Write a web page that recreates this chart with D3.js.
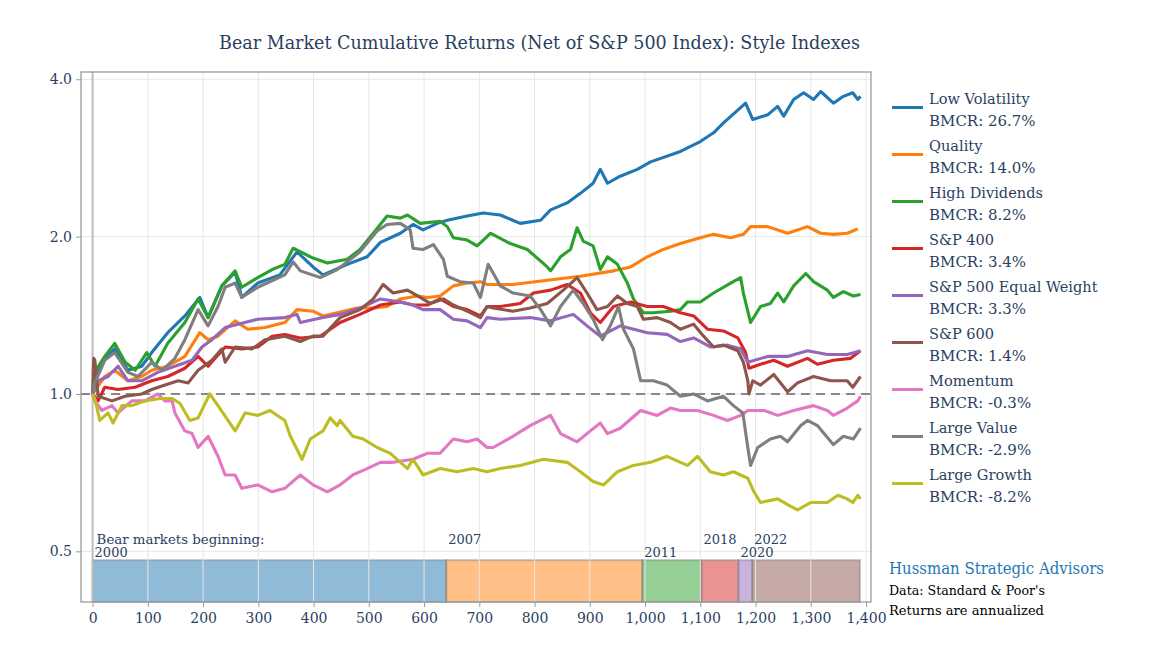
<!DOCTYPE html>
<html><head><meta charset="utf-8">
<script src="https://cdn.jsdelivr.net/npm/d3@7"></script>
<style>
body{margin:0;background:#fff}
svg{display:block}
text{font-family:"DejaVu Serif",serif;}
</style>
</head><body>
<svg id="chart" width="1149" height="656"></svg>
<script>
// ---------------- DATA ----------------
const lowVolatility = [[0,1.00],[4,1.05],[17,1.15],[40,1.22],[64,1.11],[89,1.13],[107,1.20],[136,1.31],[167,1.41],[194,1.53],[209,1.40],[234,1.61],[258,1.71],[270,1.53],[299,1.63],[339,1.69],[370,1.87],[399,1.75],[417,1.69],[461,1.77],[497,1.83],[521,1.95],[557,2.03],[580,2.11],[598,2.06],[624,2.12],[642,2.15],[678,2.19],[707,2.22],[738,2.20],[774,2.12],[811,2.15],[829,2.25],[859,2.32],[883,2.42],[906,2.53],[919,2.69],[932,2.53],[955,2.61],[986,2.69],[1010,2.78],[1064,2.91],[1100,3.04],[1124,3.16],[1142,3.30],[1182,3.60],[1195,3.35],[1222,3.42],[1240,3.55],[1251,3.40],[1269,3.66],[1287,3.77],[1305,3.66],[1318,3.79],[1341,3.60],[1359,3.71],[1376,3.77],[1385,3.66],[1390,3.71]];
const quality = [[0,1.00],[22,1.08],[40,1.11],[64,1.06],[89,1.08],[107,1.11],[136,1.13],[167,1.18],[194,1.31],[209,1.27],[227,1.29],[258,1.38],[281,1.33],[312,1.34],[348,1.37],[370,1.45],[399,1.44],[417,1.41],[443,1.43],[479,1.46],[508,1.46],[533,1.47],[557,1.52],[588,1.54],[606,1.53],[629,1.54],[653,1.61],[678,1.63],[702,1.64],[714,1.62],[761,1.62],[823,1.65],[883,1.68],[943,1.72],[974,1.75],[1004,1.83],[1033,1.89],[1064,1.94],[1100,1.99],[1124,2.02],[1155,1.99],[1178,2.02],[1191,2.09],[1222,2.09],[1258,2.03],[1294,2.09],[1318,2.03],[1341,2.02],[1366,2.03],[1385,2.07]];
const highDividends = [[0,1.00],[4,1.10],[22,1.18],[40,1.25],[59,1.15],[77,1.11],[98,1.20],[113,1.13],[136,1.25],[167,1.37],[191,1.52],[209,1.40],[234,1.61],[258,1.72],[270,1.60],[299,1.67],[325,1.73],[348,1.77],[363,1.90],[399,1.82],[425,1.78],[461,1.81],[484,1.89],[508,2.03],[533,2.19],[557,2.17],[570,2.20],[593,2.12],[629,2.14],[642,2.09],[653,1.99],[678,1.97],[696,1.92],[714,2.00],[720,2.03],[756,1.94],[787,1.89],[823,1.75],[829,1.72],[847,1.83],[865,1.89],[877,2.08],[888,1.96],[906,1.92],[919,1.73],[932,1.83],[950,1.77],[968,1.63],[979,1.52],[997,1.43],[1015,1.43],[1046,1.44],[1064,1.45],[1077,1.50],[1100,1.50],[1124,1.56],[1155,1.63],[1173,1.67],[1178,1.56],[1191,1.37],[1209,1.47],[1227,1.49],[1240,1.56],[1251,1.50],[1269,1.61],[1291,1.70],[1305,1.64],[1330,1.58],[1341,1.53],[1359,1.57],[1377,1.54],[1390,1.55]];
const sp400 = [[0,1.00],[10,0.97],[22,1.03],[46,1.02],[77,1.03],[107,1.06],[136,1.08],[167,1.12],[191,1.18],[209,1.13],[240,1.23],[270,1.22],[299,1.23],[325,1.29],[348,1.30],[376,1.28],[412,1.29],[448,1.37],[484,1.42],[521,1.48],[557,1.50],[580,1.48],[606,1.48],[629,1.52],[653,1.47],[678,1.45],[702,1.41],[714,1.47],[738,1.47],[774,1.49],[798,1.56],[829,1.58],[859,1.62],[883,1.56],[901,1.43],[919,1.37],[943,1.47],[974,1.50],[1004,1.47],[1033,1.47],[1064,1.43],[1088,1.41],[1113,1.33],[1142,1.32],[1168,1.28],[1182,1.20],[1188,1.12],[1209,1.14],[1233,1.16],[1258,1.13],[1294,1.17],[1312,1.14],[1341,1.16],[1372,1.17],[1390,1.21]];
const sp500EqualWeight = [[0,1.00],[10,1.06],[28,1.08],[46,1.13],[64,1.06],[89,1.06],[118,1.10],[149,1.13],[180,1.16],[198,1.23],[216,1.27],[240,1.34],[263,1.36],[299,1.39],[348,1.40],[370,1.42],[376,1.37],[417,1.40],[448,1.42],[484,1.46],[521,1.52],[557,1.50],[580,1.48],[598,1.45],[629,1.45],[653,1.39],[678,1.38],[702,1.34],[714,1.40],[738,1.39],[792,1.40],[829,1.38],[870,1.42],[895,1.35],[919,1.29],[955,1.35],[1004,1.31],[1040,1.30],[1064,1.26],[1088,1.28],[1118,1.23],[1149,1.24],[1173,1.22],[1186,1.15],[1222,1.18],[1258,1.18],[1294,1.21],[1330,1.19],[1366,1.19],[1390,1.21]];
const sp600 = [[0,1.00],[2,1.17],[4,1.16],[10,0.99],[35,0.97],[59,0.99],[89,1.00],[107,1.02],[131,1.04],[155,1.06],[173,1.05],[191,1.11],[216,1.16],[234,1.22],[240,1.15],[258,1.23],[289,1.22],[312,1.27],[348,1.29],[376,1.26],[399,1.29],[417,1.29],[448,1.40],[484,1.45],[508,1.52],[526,1.62],[544,1.56],[570,1.58],[593,1.53],[611,1.49],[635,1.52],[653,1.48],[678,1.44],[702,1.40],[714,1.47],[725,1.46],[761,1.44],[792,1.46],[823,1.49],[852,1.58],[877,1.67],[895,1.56],[913,1.45],[932,1.47],[950,1.54],[968,1.49],[986,1.47],[997,1.39],[1022,1.40],[1046,1.37],[1064,1.33],[1088,1.36],[1106,1.29],[1124,1.23],[1142,1.24],[1168,1.21],[1178,1.15],[1186,1.06],[1188,1.00],[1195,1.06],[1209,1.04],[1233,1.09],[1258,1.01],[1276,1.05],[1305,1.08],[1336,1.06],[1366,1.06],[1376,1.03],[1390,1.08]];
const momentum = [[0,1.00],[4,0.97],[17,0.93],[35,0.95],[46,0.92],[71,0.97],[95,0.97],[118,1.00],[131,0.97],[144,0.97],[149,0.92],[167,0.85],[180,0.84],[191,0.79],[209,0.83],[227,0.76],[240,0.70],[258,0.70],[270,0.66],[299,0.67],[325,0.65],[348,0.66],[376,0.70],[399,0.67],[425,0.65],[448,0.67],[471,0.70],[497,0.72],[521,0.74],[544,0.74],[580,0.75],[606,0.77],[629,0.77],[653,0.82],[678,0.81],[696,0.82],[714,0.79],[725,0.79],[761,0.83],[792,0.87],[829,0.91],[847,0.84],[877,0.81],[901,0.85],[919,0.88],[932,0.84],[955,0.86],[992,0.93],[1022,0.91],[1046,0.94],[1064,0.93],[1095,0.93],[1124,0.91],[1149,0.89],[1173,0.91],[1186,0.93],[1216,0.93],[1240,0.91],[1269,0.93],[1305,0.95],[1330,0.93],[1341,0.91],[1366,0.94],[1385,0.97],[1390,0.99]];
const largeValue = [[0,1.00],[4,1.05],[22,1.16],[40,1.20],[64,1.10],[82,1.08],[107,1.15],[126,1.11],[149,1.17],[167,1.27],[191,1.45],[209,1.35],[227,1.47],[240,1.60],[258,1.63],[270,1.53],[299,1.60],[348,1.69],[363,1.79],[376,1.72],[412,1.67],[443,1.73],[484,1.87],[515,2.05],[533,2.11],[557,2.12],[575,2.06],[580,1.90],[598,1.89],[617,1.93],[635,1.81],[642,1.68],[665,1.64],[689,1.63],[702,1.53],[716,1.77],[738,1.61],[761,1.56],[792,1.54],[811,1.45],[829,1.35],[847,1.47],[870,1.58],[888,1.49],[906,1.39],[923,1.27],[937,1.35],[952,1.47],[961,1.33],[979,1.22],[992,1.06],[1015,1.06],[1040,1.04],[1064,0.99],[1088,1.00],[1113,0.97],[1142,0.99],[1160,0.95],[1177,0.92],[1186,0.79],[1191,0.73],[1204,0.79],[1227,0.82],[1245,0.83],[1258,0.81],[1282,0.87],[1294,0.89],[1312,0.87],[1341,0.80],[1359,0.83],[1377,0.82],[1390,0.86]];
const largeGrowth = [[0,1.00],[4,0.98],[13,0.89],[28,0.92],[37,0.88],[53,0.95],[71,0.95],[95,0.97],[122,0.98],[144,0.98],[158,0.96],[176,0.89],[191,0.90],[212,1.00],[227,0.95],[258,0.85],[276,0.92],[299,0.91],[321,0.93],[348,0.89],[358,0.83],[379,0.75],[394,0.82],[417,0.85],[430,0.90],[443,0.87],[448,0.89],[471,0.83],[490,0.82],[515,0.79],[539,0.77],[570,0.72],[580,0.75],[598,0.70],[629,0.72],[660,0.71],[689,0.72],[714,0.71],[738,0.72],[774,0.73],[816,0.75],[859,0.74],[883,0.71],[906,0.68],[925,0.67],[950,0.71],[979,0.73],[1010,0.74],[1040,0.76],[1064,0.74],[1077,0.73],[1095,0.76],[1118,0.71],[1142,0.70],[1160,0.71],[1186,0.69],[1197,0.65],[1209,0.62],[1240,0.63],[1263,0.61],[1276,0.60],[1300,0.62],[1330,0.62],[1349,0.64],[1366,0.63],[1376,0.62],[1385,0.64],[1390,0.63]];

const seriesNames = ["Low Volatility","Quality","High Dividends","S&P 400","S&P 500 Equal Weight","S&P 600","Momentum","Large Value","Large Growth"];
const seriesBMCR = ["26.7%","14.0%","8.2%","3.4%","3.3%","1.4%","-0.3%","-2.9%","-8.2%"];
const seriesData = [lowVolatility, quality, highDividends, sp400, sp500EqualWeight, sp600, momentum, largeValue, largeGrowth];
const seriesColors = ["#1f77b4","#ff7f0e","#2ca02c","#d62728","#9467bd","#8c564b","#e377c2","#7f7f7f","#bcbd22"];

const bearYears = ["2000","2007","2011","2018","2020","2022"];
const bearStart = [0, 640, 995, 1102, 1169, 1194];
const bearEnd = [640, 995, 1102, 1169, 1194, 1389];
const bearColors = ["#1f77b4","#ff7f0e","#2ca02c","#d62728","#9467bd","#8c564b"];

const xTicks = d3.range(0, 1401, 100);
const yTicks = [0.5, 1, 2, 4];

const titleText = "Bear Market Cumulative Returns (Net of S&P 500 Index): Style Indexes";
const bearLabel = "Bear markets beginning:";
const footer = ["Hussman Strategic Advisors", "Data: Standard & Poor's", "Returns are annualized"];

// ---------------- LAYOUT ----------------
const svg = d3.select("#chart");
const L = 81, R = 871, T = 72, B = 602;
const ink = "#2a3f5f";
const x = d3.scaleLinear().domain([-21, 1409]).range([L, R]);
const y = d3.scaleLog().domain([0.40, 4.13]).range([B, T]);

function fit(sel, w) {
  sel.attr("textLength", w).attr("lengthAdjust", "spacingAndGlyphs");
}
function condense(sel, f) {
  sel.each(function(){ const n = this.getComputedTextLength(); d3.select(this).attr("textLength", n*f).attr("lengthAdjust","spacingAndGlyphs"); });
}

// bear market bars
const barTopVal = 0.481;
svg.append("g").selectAll("rect").data(bearYears).join("rect")
  .attr("x", (d,i) => x(bearStart[i]))
  .attr("width", (d,i) => x(bearEnd[i]) - x(bearStart[i]))
  .attr("y", y(barTopVal))
  .attr("height", B - y(barTopVal))
  .attr("fill", (d,i) => bearColors[i])
  .attr("fill-opacity", 0.5)
  .attr("stroke", "#808080")
  .attr("stroke-opacity", 0.45)
  .attr("stroke-width", 2);

// grid
const grid = svg.append("g");
grid.selectAll("line.v").data(xTicks).join("line")
  .attr("x1", d => x(d)).attr("x2", d => x(d)).attr("y1", T).attr("y2", B)
  .attr("stroke", "#e6e6e6").attr("stroke-width", 1);
grid.selectAll("line.h").data(yTicks).join("line")
  .attr("x1", L).attr("x2", R).attr("y1", d => y(d)).attr("y2", d => y(d))
  .attr("stroke", "#e6e6e6").attr("stroke-width", 1);
// zero line
svg.append("line").attr("x1", x(0)).attr("x2", x(0)).attr("y1", T).attr("y2", B)
  .attr("stroke", "#bdbdbd").attr("stroke-width", 2);
// reference line at 1.0
svg.append("line").attr("x1", L).attr("x2", R).attr("y1", y(1)).attr("y2", y(1))
  .attr("stroke", "#888").attr("stroke-width", 2).attr("stroke-dasharray", "9,6");

// bear labels
const lab = svg.append("g").attr("fill", ink).style("font-size", "13px");
lab.append("text").attr("x", x(0) + 4).attr("y", 544).text(bearLabel).call(fit, 168);
lab.selectAll("text.yr").data(bearYears).join("text")
  .attr("x", (d,i) => x(bearStart[i]) + 2)
  .attr("y", (d,i) => i % 2 === 0 ? 557 : 544)
  .text(d => d);

// series
const line = d3.line().x(d => x(d[0])).y(d => y(d[1]));
svg.append("g").selectAll("path").data(seriesData).join("path")
  .attr("d", line).attr("fill", "none")
  .attr("stroke", (d,i) => seriesColors[i])
  .attr("stroke-width", 3.1)
  .attr("stroke-linejoin", "round");

// frame
svg.append("rect").attr("x", L).attr("y", T).attr("width", R-L).attr("height", B-T)
  .attr("fill", "none").attr("stroke", "#9a9a9a").attr("stroke-width", 1.3);

// axes
const xAxis = svg.append("g").attr("transform", `translate(0,${B})`)
  .call(d3.axisBottom(x).tickValues(xTicks).tickFormat(d3.format(",")).tickSize(5).tickPadding(6));
const yAxis = svg.append("g").attr("transform", `translate(${L},0)`)
  .call(d3.axisLeft(y).tickValues(yTicks).tickFormat(d3.format(".1f")).tickSize(5).tickPadding(4));
[xAxis, yAxis].forEach(a => {
  a.select(".domain").remove();
  a.selectAll(".tick line").attr("stroke", "#9a9a9a");
  a.selectAll(".tick text").attr("fill", ink).style("font-size", "14px").style("font-family", '"DejaVu Serif", serif');
});

// title
svg.append("text").attr("x", 539.5).attr("y", 49).attr("text-anchor", "middle")
  .attr("fill", ink).style("font-size", "18px").text(titleText).call(fit, 641);

// legend
const leg = svg.append("g");
seriesNames.forEach((name, i) => {
  const by = 104 + i * 47;
  leg.append("line").attr("x1", 892).attr("x2", 923).attr("y1", by + 3.5).attr("y2", by + 3.5)
    .attr("stroke", seriesColors[i]).attr("stroke-width", 3);
  leg.append("text").attr("x", 929).attr("y", by).attr("fill", ink).style("font-size", "15px")
    .text(name).call(condense, 0.97);
  leg.append("text").attr("x", 929).attr("y", by + 22).attr("fill", ink).style("font-size", "15px")
    .text("BMCR: " + seriesBMCR[i]);
});

// footer
svg.append("text").attr("x", 889).attr("y", 574).attr("fill", "#1f77b4").style("font-size", "16px")
  .text(footer[0]).call(fit, 215);
svg.append("text").attr("x", 889).attr("y", 595).attr("fill", "#000").style("font-size", "13px")
  .text(footer[1]).call(fit, 156);
svg.append("text").attr("x", 889).attr("y", 615).attr("fill", "#000").style("font-size", "13px")
  .text(footer[2]).call(fit, 155);
</script>
</body></html>
